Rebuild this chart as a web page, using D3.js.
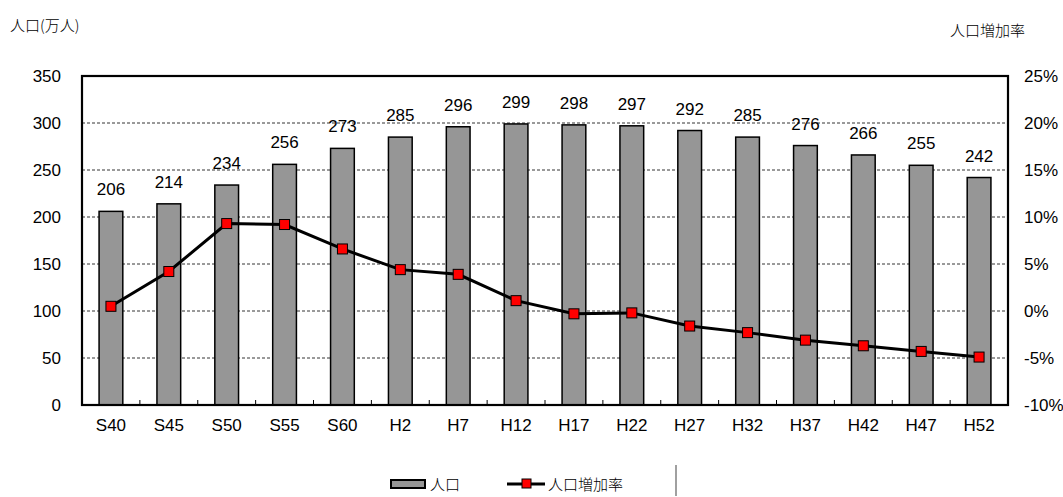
<!DOCTYPE html>
<html>
<head>
<meta charset="utf-8">
<script src="https://cdn.jsdelivr.net/npm/d3@7"></script>
<style>
  html, body { margin: 0; padding: 0; background: #fff; }
  svg { display: block; }
  text { font-family: "Liberation Sans", Arial, sans-serif; fill: #000; }
  .jp { font-family: "Noto Sans CJK JP", sans-serif; font-weight: 300; }
</style>
</head>
<body>
<svg id="chart" width="1063" height="497"></svg>
<script>
// Population (10k persons) by survey year, with growth rate per period
const categories = ["S40","S45","S50","S55","S60","H2","H7","H12","H17","H22","H27","H32","H37","H42","H47","H52"];
const population = [206, 214, 234, 256, 273, 285, 296, 299, 298, 297, 292, 285, 276, 266, 255, 242];
const growthRate = [0.5, 4.2, 9.3, 9.2, 6.6, 4.4, 3.9, 1.1, -0.3, -0.2, -1.6, -2.3, -3.1, -3.7, -4.3, -4.9];
const leftTicks = [0, 50, 100, 150, 200, 250, 300, 350];
const rightTicks = [-10, -5, 0, 5, 10, 15, 20, 25];

const svg = d3.select("#chart");
const plot = { left: 82, right: 1008, top: 76, bottom: 405 };

const x = d3.scaleBand().domain(categories).range([plot.left, plot.right]).paddingInner(0.59).paddingOuter(0.295);
const yL = d3.scaleLinear().domain([0, 350]).range([plot.bottom, plot.top]);
const yR = d3.scaleLinear().domain([-10, 25]).range([plot.bottom, plot.top]);

// dashed gridlines
svg.append("g").selectAll("line").data(leftTicks.filter(d => d > 0 && d < 350)).join("line")
  .attr("x1", plot.left).attr("x2", plot.right)
  .attr("y1", d => yL(d)).attr("y2", d => yL(d))
  .attr("stroke", "#000").attr("stroke-width", 0.8).attr("stroke-dasharray", "3,2");

// bars
svg.append("g").selectAll("rect").data(population).join("rect")
  .attr("x", (d, i) => x(categories[i]))
  .attr("width", x.bandwidth())
  .attr("y", d => yL(d))
  .attr("height", d => yL(0) - yL(d))
  .attr("fill", "#969696").attr("stroke", "#000").attr("stroke-width", 1.5);

// bar value labels
svg.append("g").selectAll("text").data(population).join("text")
  .attr("x", (d, i) => x(categories[i]) + x.bandwidth() / 2)
  .attr("y", d => yL(d) - 16)
  .attr("text-anchor", "middle")
  .attr("font-size", 17)
  .text(d => d);

// plot frame
svg.append("rect")
  .attr("x", plot.left).attr("y", plot.top)
  .attr("width", plot.right - plot.left).attr("height", plot.bottom - plot.top)
  .attr("fill", "none").attr("stroke", "#000").attr("stroke-width", 2.2);

// category separator ticks on the bottom axis
svg.append("g").selectAll("line").data(categories.slice(1)).join("line")
  .attr("x1", d => x(d) - x.step() * x.paddingInner() / 2)
  .attr("x2", d => x(d) - x.step() * x.paddingInner() / 2)
  .attr("y1", plot.bottom).attr("y2", plot.bottom - 5)
  .attr("stroke", "#000").attr("stroke-width", 1);

// growth rate line
const line = d3.line()
  .x((d, i) => x(categories[i]) + x.bandwidth() / 2)
  .y(d => yR(d));
svg.append("path").datum(growthRate)
  .attr("d", line).attr("fill", "none")
  .attr("stroke", "#000").attr("stroke-width", 3);

svg.append("g").selectAll("rect").data(growthRate).join("rect")
  .attr("x", (d, i) => x(categories[i]) + x.bandwidth() / 2 - 5)
  .attr("y", d => yR(d) - 5)
  .attr("width", 10).attr("height", 10)
  .attr("fill", "#ff0000").attr("stroke", "#000").attr("stroke-width", 1);

// left axis labels
svg.append("g").selectAll("text").data(leftTicks).join("text")
  .attr("x", 61).attr("y", d => yL(d) + 6)
  .attr("text-anchor", "end").attr("font-size", 17)
  .text(d => d);

// right axis labels
svg.append("g").selectAll("text").data(rightTicks).join("text")
  .attr("x", 1024).attr("y", d => yR(d) + 6)
  .attr("text-anchor", "start").attr("font-size", 17)
  .text(d => d + "%");

// category labels
svg.append("g").selectAll("text").data(categories).join("text")
  .attr("x", d => x(d) + x.bandwidth() / 2)
  .attr("y", 431)
  .attr("text-anchor", "middle").attr("font-size", 17)
  .text(d => d);

// axis titles
svg.append("text").attr("class", "jp").attr("x", 10).attr("y", 31).attr("font-size", 15).text("人口(万人)");
svg.append("text").attr("class", "jp").attr("x", 950).attr("y", 36).attr("font-size", 15).text("人口増加率");

// legend
const lg = svg.append("g");
lg.append("rect").attr("x", 391).attr("y", 480).attr("width", 34).attr("height", 8)
  .attr("fill", "#969696").attr("stroke", "#000").attr("stroke-width", 2);
lg.append("text").attr("class", "jp").attr("x", 430).attr("y", 490).attr("font-size", 15).text("人口");
lg.append("line").attr("x1", 507).attr("x2", 545).attr("y1", 484).attr("y2", 484)
  .attr("stroke", "#000").attr("stroke-width", 3);
lg.append("rect").attr("x", 522).attr("y", 479).attr("width", 9).attr("height", 9)
  .attr("fill", "#ff0000").attr("stroke", "#000").attr("stroke-width", 1);
lg.append("text").attr("class", "jp").attr("x", 548).attr("y", 490).attr("font-size", 15).text("人口増加率");
lg.append("line").attr("x1", 676).attr("x2", 676).attr("y1", 465).attr("y2", 496)
  .attr("stroke", "#808080").attr("stroke-width", 1.5);
</script>
</body>
</html>
